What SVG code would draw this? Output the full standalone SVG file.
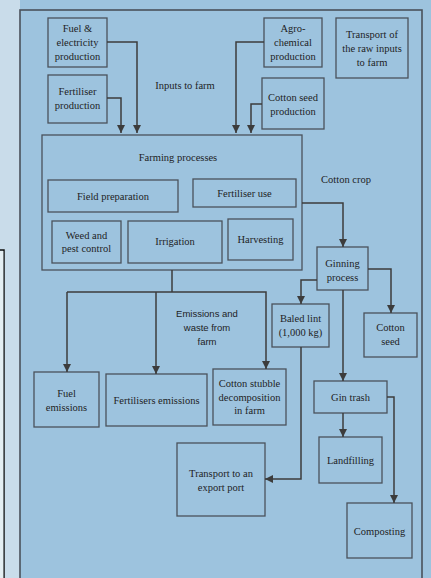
<svg xmlns="http://www.w3.org/2000/svg" width="431" height="578" viewBox="0 0 431 578">
<defs>
<style>
.box{fill:none;stroke:#4a525b;stroke-width:1.3}
.frame{fill:none;stroke:#4a525b;stroke-width:1.6}
.t{font-family:"Liberation Serif","Times New Roman",serif;font-size:10.5px;fill:#1e1e1e;text-anchor:middle}
.s{font-family:"Liberation Sans",Arial,sans-serif;font-size:9.5px;fill:#1e1e1e;text-anchor:middle}
.c{fill:none;stroke:#3c3c3c;stroke-width:1.5}
</style>
<marker id="ah" viewBox="0 0 10 10" refX="10" refY="5" markerWidth="8" markerHeight="8" markerUnits="userSpaceOnUse" orient="auto">
<path d="M0,0 L10,5 L0,10 z" fill="#3c3c3c"/>
</marker>
</defs>
<rect x="0" y="0" width="431" height="578" fill="#c9dcea"/>
<rect x="20" y="0" width="411" height="578" fill="#9dc3de"/>
<path d="M0,250 H4 V578" fill="none" stroke="#111" stroke-width="1.5"/>
<rect x="0" y="251" width="3.3" height="327" fill="#e4eef2"/>
<rect class="frame" x="20" y="10" width="402" height="580"/>

<g id="fuel-prod"><rect class="box" x="48" y="18" width="59" height="49"/>
<text class="t" x="77.5" y="32">Fuel &amp;</text><text class="t" x="77.5" y="46">electricity</text><text class="t" x="77.5" y="60">production</text></g>
<g id="fert-prod"><rect class="box" x="48" y="75" width="59" height="48"/>
<text class="t" x="77.5" y="95">Fertiliser</text><text class="t" x="77.5" y="109">production</text></g>
<g id="agro-prod"><rect class="box" x="264" y="18" width="58" height="49"/>
<text class="t" x="293" y="32">Agro-</text><text class="t" x="293" y="46">chemical</text><text class="t" x="293" y="60">production</text></g>
<g id="transport-raw"><rect class="box" x="336" y="18" width="72" height="60"/>
<text class="t" x="372" y="38">Transport of</text><text class="t" x="372" y="52">the raw inputs</text><text class="t" x="372" y="66">to farm</text></g>
<g id="seed-prod"><rect class="box" x="262" y="78" width="62" height="51"/>
<text class="t" x="293" y="101">Cotton seed</text><text class="t" x="293" y="115">production</text></g>
<text class="t" x="185" y="89">Inputs to farm</text>

<g id="farming"><rect class="box" x="42" y="135" width="260" height="135"/>
<text class="t" x="178" y="161">Farming processes</text></g>
<g id="field-prep"><rect class="box" x="48" y="180" width="130" height="32"/>
<text class="t" x="113" y="199.5">Field preparation</text></g>
<g id="fert-use"><rect class="box" x="193" y="179" width="103" height="28"/>
<text class="t" x="244.5" y="196.5">Fertiliser use</text></g>
<g id="weed"><rect class="box" x="52" y="221" width="69" height="42"/>
<text class="t" x="86.5" y="238.5">Weed and</text><text class="t" x="86.5" y="252">pest control</text></g>
<g id="irrigation"><rect class="box" x="128" y="221" width="94" height="42"/>
<text class="t" x="175" y="245">Irrigation</text></g>
<g id="harvesting"><rect class="box" x="228" y="219" width="65" height="41"/>
<text class="t" x="260.5" y="243">Harvesting</text></g>
<text class="t" x="346" y="183">Cotton crop</text>

<g id="ginning"><rect class="box" x="317" y="247" width="51" height="43"/>
<text class="t" x="342.5" y="266.5">Ginning</text><text class="t" x="342.5" y="280.5">process</text></g>
<g id="cotton-seed"><rect class="box" x="364" y="313" width="53" height="44"/>
<text class="t" x="390.5" y="331">Cotton</text><text class="t" x="390.5" y="345">seed</text></g>
<g id="baled-lint"><rect class="box" x="272" y="304" width="57" height="43"/>
<text class="t" x="300.5" y="322">Baled lint</text><text class="t" x="300.5" y="336">(1,000 kg)</text></g>
<g id="gin-trash"><rect class="box" x="314" y="381" width="73" height="32"/>
<text class="t" x="350.5" y="400.5">Gin trash</text></g>
<g id="landfilling"><rect class="box" x="319" y="437" width="63" height="46"/>
<text class="t" x="350.5" y="464">Landfilling</text></g>
<g id="composting"><rect class="box" x="347" y="503" width="65" height="55"/>
<text class="t" x="379.5" y="534.5">Composting</text></g>
<g id="transport-port"><rect class="box" x="177" y="443" width="88" height="73"/>
<text class="t" x="221" y="476.5">Transport to an</text><text class="t" x="221" y="490.5">export port</text></g>

<g id="fuel-em"><rect class="box" x="34" y="372" width="65" height="55"/>
<text class="t" x="66.5" y="396.5">Fuel</text><text class="t" x="66.5" y="410.5">emissions</text></g>
<g id="fert-em"><rect class="box" x="106" y="374" width="101" height="52"/>
<text class="t" x="156.5" y="403.5">Fertilisers emissions</text></g>
<g id="stubble"><rect class="box" x="213" y="369" width="73" height="56"/>
<text class="t" x="249.5" y="386.5">Cotton stubble</text><text class="t" x="249.5" y="400.5">decomposition</text><text class="t" x="249.5" y="413.5">in farm</text></g>
<text class="s" x="207" y="316.5">Emissions and</text>
<text class="s" x="207" y="330.5">waste from</text>
<text class="s" x="207" y="344.5">farm</text>

<g id="connectors">
<path class="c" d="M107,42 H137 V133" marker-end="url(#ah)"/>
<path class="c" d="M107,98 H121 V133" marker-end="url(#ah)"/>
<path class="c" d="M264,42 H236 V133" marker-end="url(#ah)"/>
<path class="c" d="M262,104 H251 V133" marker-end="url(#ah)"/>
<path class="c" d="M302,203 H343 V247" marker-end="url(#ah)"/>
<path class="c" d="M368,269 H391 V313" marker-end="url(#ah)"/>
<path class="c" d="M317,280 H301 V304" marker-end="url(#ah)"/>
<path class="c" d="M343,290 V381" marker-end="url(#ah)"/>
<path class="c" d="M301,347 V479 H265" marker-end="url(#ah)"/>
<path class="c" d="M343,413 V437" marker-end="url(#ah)"/>
<path class="c" d="M387,397 H394 V503" marker-end="url(#ah)"/>
<path class="c" d="M172,270 V292"/>
<path class="c" d="M67,292 H266 V369" marker-end="url(#ah)"/>
<path class="c" d="M67,292 V372" marker-end="url(#ah)"/>
<path class="c" d="M156,292 V374" marker-end="url(#ah)"/>
</g>
</svg>
